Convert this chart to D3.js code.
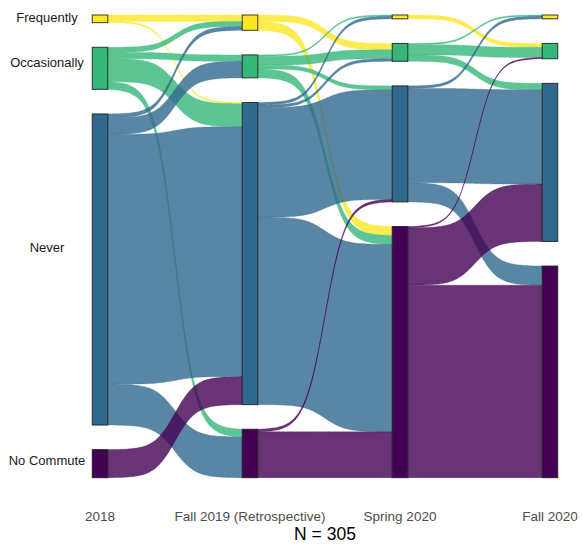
<!DOCTYPE html>
<html>
<head>
<meta charset="utf-8">
<script src="https://cdn.jsdelivr.net/npm/d3@7"></script>
<style>
  html, body { margin: 0; padding: 0; background: #fff; }
  svg { display: block; font-family: "Liberation Sans", Arial, Helvetica, sans-serif; }
</style>
</head>
<body>
<svg id="chart" width="583" height="547"></svg>
<script>
// ---------- data ----------
const axes = ["2018", "Fall 2019 (Retrospective)", "Spring 2020", "Fall 2020"];
const categories = ["Frequently", "Occasionally", "Never", "No Commute"];
const categoryColors = ["#FDE725", "#35B779", "#31688E", "#440154"];
const totalN = 305;

// flows[source][destination] between consecutive survey waves (counts of people)
const flows2018ToFall2019 = [
  [5, 0, 1, 0],
  [4, 5, 18, 6],
  [3, 13, 196, 32],
  [0, 0, 22, 0]
];
const flowsFall2019ToSpring2020 = [
  [0, 5, 0, 7],
  [1, 7, 3, 7],
  [2, 2, 86, 147],
  [0, 0, 2, 36]
];
const flowsSpring2020ToFall2020 = [
  [0, 3, 0, 0],
  [1, 8, 5, 0],
  [2, 0, 74, 15],
  [0, 1, 45, 151]
];
const transitions = [flows2018ToFall2019, flowsFall2019ToSpring2020, flowsSpring2020ToFall2020];

// y positions (in stacked units from the top) of the category labels on the left
const labelTicks = [2.0, 36.9, 182.1, 349.4];
const xTitle = "N = " + totalN;

// ---------- layout ----------
const gapUnits = 19.3;
const totalUnits = totalN + gapUnits * (categories.length - 1);
const svg = d3.select("#chart");

const x = d3.scalePoint().domain(axes).range([100, 550]);
const y = d3.scaleLinear().domain([0, totalUnits]).range([15, 477.7]);
const color = d3.scaleOrdinal().domain(categories).range(categoryColors);
const halfW = 7.75;

// stratum totals per axis
const strataTotals = axes.map((a, i) => {
  if (i === 0) return transitions[0].map(row => d3.sum(row));
  const m = transitions[i - 1];
  return categories.map((c, d) => d3.sum(m, row => row[d]));
});
// stratum top offsets
const strataTop = strataTotals.map(tot => {
  let acc = 0;
  return tot.map((v, i) => { const t = acc + i * gapUnits; acc += v; return t; });
});

// ---------- flows ----------
const K = 13;
const L = v => 1 / (1 + Math.exp(-K * (v - 0.5)));
const sig = t => (L(t) - L(0)) / (L(1) - L(0));
const line = d3.line();

function flowPath(x0, x1, a0, a1, b0, b1) {
  const n = 60, pts = [];
  for (let i = 0; i <= n; i++) {
    const t = i / n;
    pts.push([x0 + (x1 - x0) * t, a0 + (a1 - a0) * sig(t)]);
  }
  for (let i = n; i >= 0; i--) {
    const t = i / n;
    pts.push([x0 + (x1 - x0) * t, b0 + (b1 - b0) * sig(t)]);
  }
  return line(pts) + "Z";
}

const gFlows = svg.append("g");
transitions.forEach((m, ti) => {
  const xa = x(axes[ti]) + halfW, xb = x(axes[ti + 1]) - halfW;
  // outgoing offsets at source (ordered by destination)
  const outOff = m.map((row, s) => {
    let acc = strataTop[ti][s];
    return row.map(v => { const o = acc; acc += v; return o; });
  });
  // incoming offsets at destination (ordered by source)
  const inOff = categories.map((c, d) => {
    let acc = strataTop[ti + 1][d];
    return m.map(row => { const o = acc; acc += row[d]; return o; });
  });
  m.forEach((row, s) => {
    row.forEach((v, d) => {
      if (!v) return;
      const s0 = outOff[s][d], d0 = inOff[d][s];
      gFlows.append("path")
        .attr("d", flowPath(xa, xb, y(s0), y(d0), y(s0 + v), y(d0 + v)))
        .attr("fill", color(categories[s]))
        .attr("fill-opacity", 0.8)
        .attr("stroke", color(categories[s]))
        .attr("stroke-opacity", 0.6)
        .attr("stroke-width", 0.5);
    });
  });
});

// ---------- strata ----------
const gStrata = svg.append("g");
axes.forEach((a, ai) => {
  categories.forEach((c, ci) => {
    const v = strataTotals[ai][ci];
    if (!v) return;
    gStrata.append("rect")
      .attr("x", x(a) - halfW)
      .attr("y", y(strataTop[ai][ci]))
      .attr("width", halfW * 2)
      .attr("height", y(strataTop[ai][ci] + v) - y(strataTop[ai][ci]))
      .attr("fill", color(c))
      .attr("stroke", "#1a1a1a")
      .attr("stroke-opacity", 0.85)
      .attr("stroke-width", 1);
  });
});

// ---------- labels ----------
svg.append("g").selectAll("text")
  .data(categories)
  .join("text")
  .attr("x", 47)
  .attr("y", (d, i) => y(labelTicks[i]))
  .attr("dy", "0.35em")
  .attr("text-anchor", "middle")
  .attr("font-size", 13)
  .attr("fill", "#1a1a1a")
  .text(d => d);

// x axis tick labels
svg.append("g").selectAll("text")
  .data(axes)
  .join("text")
  .attr("x", d => x(d))
  .attr("y", 520.5)
  .attr("text-anchor", "middle")
  .attr("font-size", 13.5)
  .attr("fill", "#4d4d4d")
  .text(d => d);

// x axis title
svg.append("text")
  .attr("x", (x.range()[0] + x.range()[1]) / 2)
  .attr("y", 540)
  .attr("text-anchor", "middle")
  .attr("font-size", 17.5)
  .attr("fill", "#000")
  .text(xTitle);
</script>
</body>
</html>
